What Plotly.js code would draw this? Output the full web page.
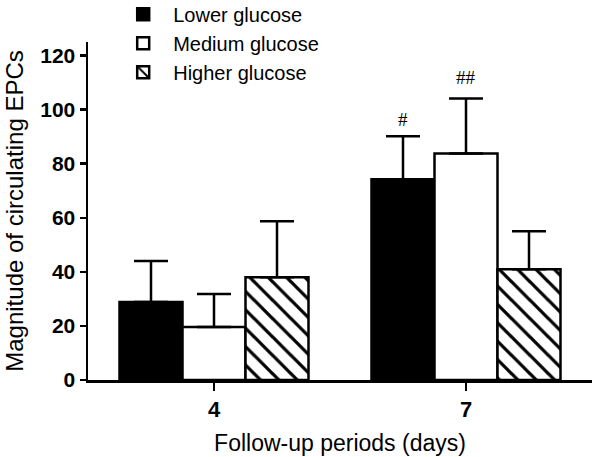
<!DOCTYPE html>
<html>
<head>
<meta charset="utf-8">
<script src="https://cdn.plot.ly/plotly-3.0.1.min.js"></script>
<style>
  body { margin: 0; background: #fff; }
  #chart { width: 602px; height: 457px; }
</style>
</head>
<body>
<div id="chart"></div>
<script>
// follow-up periods (days)
const periods = ["4", "7"];

// mean magnitude of circulating EPCs
const lowerVals = [28.8, 74.2];
const lowerErr = [15.2, 15.9];
const mediumVals = [19.6, 83.8];
const mediumErr = [12.2, 20.3];
const higherVals = [38.0, 41.0];
const higherErr = [20.7, 14.0];

const zeros = [0, 0];
const font = "Liberation Sans, Arial, sans-serif";

function errBars(arr) {
    return {
        type: "data", symmetric: false, array: arr, arrayminus: zeros,
        color: "#000", thickness: 2.5, width: 17
    };
}

var data = [
    {
        type: "bar", name: "Lower glucose", x: periods, y: lowerVals,
        marker: { color: "#000", line: { color: "#000", width: 2.5 } },
        error_y: errBars(lowerErr)
    },
    {
        type: "bar", name: "Medium glucose", x: periods, y: mediumVals,
        marker: { color: "#fff", line: { color: "#000", width: 2.5 } },
        error_y: errBars(mediumErr)
    },
    {
        type: "bar", name: "Higher glucose", x: periods, y: higherVals,
        marker: {
            color: "#fff", line: { color: "#000", width: 2.5 },
            pattern: { shape: "\\", fgcolor: "#000", bgcolor: "#fff", size: 13, solidity: 0.25 }
        },
        error_y: errBars(higherErr)
    }
];

var layout = {
    width: 602, height: 457,
    margin: { l: 88, r: 10, t: 42, b: 77, autoexpand: false },
    paper_bgcolor: "#fff", plot_bgcolor: "#fff",
    font: { family: font, color: "#000" },
    barmode: "group", bargap: 0.25, bargroupgap: 0,
    showlegend: true,
    legend: {
        x: 0.05, y: 1.14, xanchor: "left", yanchor: "top",
        font: { size: 20, family: font }, bgcolor: "rgba(0,0,0,0)",
        traceorder: "normal", itemwidth: 50, tracegroupgap: 0
    },
    xaxis: {
        type: "category", range: [-0.5, 1.5],
        showline: true, linecolor: "#000", linewidth: 2.5,
        ticks: "outside", ticklen: 8, tickwidth: 2.5, tickcolor: "#000",
        tickfont: { size: 22, weight: "bold" },
        showgrid: false, zeroline: false,
        title: { text: "Follow-up periods (days)", font: { size: 23 }, standoff: 14 }
    },
    yaxis: {
        range: [0, 125], tickvals: [0, 20, 40, 60, 80, 100, 120],
        showline: true, linecolor: "#000", linewidth: 2.5,
        ticks: "outside", ticklen: 6, tickwidth: 2.5, tickcolor: "#000",
        tickfont: { size: 21, weight: "bold" },
        showgrid: false, zeroline: false,
        title: { text: "Magnitude of circulating EPCs", font: { size: 24 }, standoff: 10 }
    },
    annotations: [
        { x: 0.75, y: 96.4, xref: "x", yref: "y", text: "#", showarrow: false,
          font: { family: "Liberation Serif, serif", size: 19 } },
        { x: 1.0, y: 111.8, xref: "x", yref: "y", text: "##", showarrow: false,
          font: { family: "Liberation Serif, serif", size: 19 } }
    ]
};

Plotly.newPlot("chart", data, layout, { displayModeBar: false, staticPlot: true });
</script>
</body>
</html>
